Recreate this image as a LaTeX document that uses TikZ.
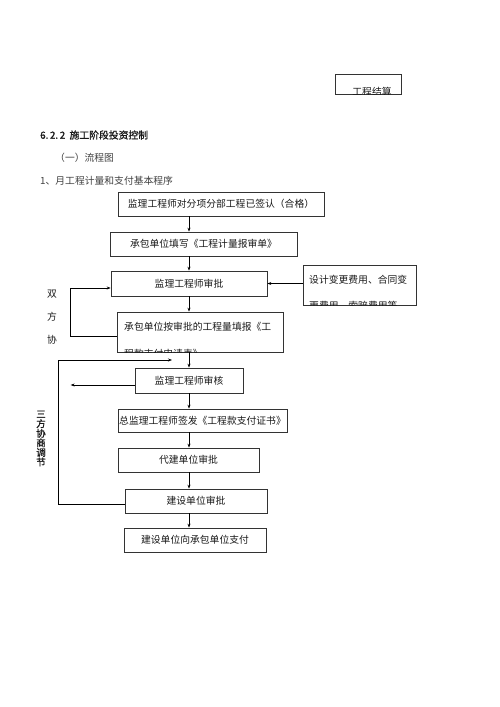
\documentclass[tikz,border=0pt]{standalone}
\usepackage{fontspec}
\usetikzlibrary{positioning,arrows.meta}
\newfontfamily\cjk{Noto Sans CJK SC}
\newfontfamily\cjkbf{Noto Sans CJK SC}[FakeBold=1.2]

\begin{document}
\begin{tikzpicture}[x=1pt, y=-1pt, >={Stealth[length=4pt,width=3pt]},
    box/.style={draw=black!80, line width=0.7pt, inner sep=0pt},
    txt/.style={inner sep=0pt, text=black!90, font=\cjk\fontsize{9.8}{12}\selectfont}]
    \useasboundingbox (0,0) rectangle (500,707);

    % box at the top of the page, cut by the page break
    \node[box, minimum width=66, minimum height=20] (settle) at (368,84) {};
    \begin{scope}
        \clip (settle.south west) rectangle (settle.north east);
        \node[txt] at (372,92) {工程结算};
    \end{scope}

    \node[txt, anchor=west, font=\cjkbf\fontsize{9.8}{12}\selectfont] (sec) at (40,135) {6.\,2.\,2\ \ 施工阶段投资控制};
    \node[txt, anchor=west, text=black!75] (sub) at (55,158) {（一）流程图};
    \node[txt, anchor=west, text=black!75] (title) at (40,181) {1、月工程计量和支付基本程序};

    \node[box, txt, minimum width=206, minimum height=24] (n1) at (221,204) {监理工程师对分项分部工程已签认（合格）};
    \node[box, txt, minimum width=187, minimum height=24] (n2) at (203.5,244) {承包单位填写《工程计量报审单》};
    \node[box, txt, minimum width=156, minimum height=25] (n3) at (189,283.5) {监理工程师审批};
    \node[box, minimum width=113, minimum height=40] (side) at (359.5,285) {};
    \node[box, minimum width=166, minimum height=40] (n4) at (200,332) {};
    \node[box, txt, minimum width=108, minimum height=25] (n5) at (189,380.5) {监理工程师审核};
    \node[box, txt, minimum width=169, minimum height=23] (n6) at (202.5,420.5) {总监理工程师签发《工程款支付证书》};
    \node[box, txt, minimum width=141, minimum height=24] (n7) at (188.5,460) {代建单位审批};
    \node[box, txt, minimum width=142, minimum height=24] (n8) at (196,501) {建设单位审批};
    \node[box, txt, minimum width=142, minimum height=24] (n9) at (195,540) {建设单位向承包单位支付};

    % texts cut at the bottom of their boxes
    \begin{scope}
        \clip (side.south west) rectangle (side.north east);
        \node[txt, anchor=base west] at (309,283.7) {设计变更费用、合同变};
        \node[txt, anchor=base west] at (309,309) {更费用、索赔费用等};
    \end{scope}
    \begin{scope}
        \clip (n4.south west) rectangle (n4.north east);
        \node[txt, anchor=base west] at (124,330.7) {承包单位按审批的工程量填报《工};
        \node[txt, anchor=base west] at (124,357) {程款支付申请表》};
    \end{scope}

    \node[txt, align=center, font=\cjk\fontsize{9.8}{23}\selectfont] (two) at (52,317) {双\\方\\协};
    \node[txt, align=center, font=\cjkbf\fontsize{9.5}{9.6}\selectfont] (three) at (41,438.5) {三\\方\\协\\商\\调\\节};

    \coordinate (back) at (172,360);

    \foreach \a/\b in {n1/n2, n2/n3, n3/n4, n4/n5, n5/n6, n6/n7, n7/n8, n8/n9}
        \draw[->, line width=0.7pt] (\a.south -| n3) -- (\b.north -| n3);
    \draw[->, line width=0.7pt] (side.west |- n3) -- (n3.east);
    \draw[->, line width=0.7pt] ([yshift=-4pt]n4.west) -- ++(-46,0) |- ([yshift=-4.5pt]n3.west);
    \draw[->, line width=0.7pt] ([yshift=-4.5pt]n5.west) -- ++(-64,0);
    \draw[->, line width=0.7pt] ([yshift=-3pt]n8.west) -- ++(-66,0) |- (back);
\end{tikzpicture}
\end{document}
